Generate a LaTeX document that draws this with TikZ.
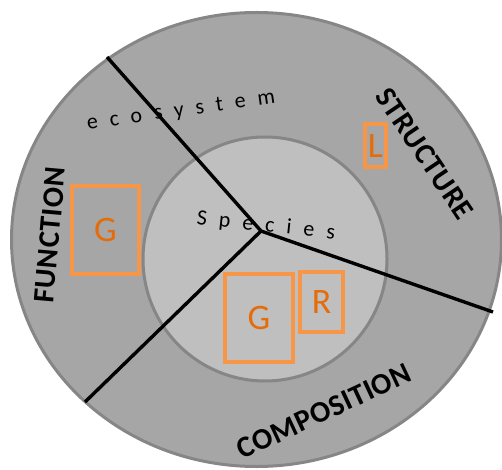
\documentclass[tikz,border=0pt]{standalone}
\usepackage{fontspec}
\setmainfont{Carlito}
\begin{document}
\begin{tikzpicture}[x=1bp,y=-1bp,
  ring/.style={fill=outerfill,draw=ringline,line width=3bp},
  core/.style={fill=innerfill,draw=ringline,line width=3bp},
  divider/.style={line width=3.4bp,black},
  obox/.style={draw=boxorange,line width=3.4bp,inner sep=0pt,text=letterorange,font=\fontsize{36}{36}\selectfont},
  biglabel/.style={font=\bfseries\fontsize{30}{30}\selectfont\addfontfeature{LetterSpace=2},inner sep=0pt},
  spaced/.style={font=\fontsize{22}{22}\selectfont\addfontfeature{LetterSpace=55},inner sep=0pt,text=black}
]
\definecolor{outerfill}{HTML}{A6A6A6}
\definecolor{innerfill}{HTML}{BFBFBF}
\definecolor{ringline}{HTML}{868686}
\definecolor{boxorange}{HTML}{F79646}
\definecolor{letterorange}{HTML}{E46C0A}
\useasboundingbox (0,0) rectangle (502,470);
% rings
\draw[ring] (256.5,239.5) ellipse [x radius=245,y radius=227];
\draw[core] (265,259) circle [radius=122];
% texts
\node[spaced,rotate=8] (eco) at (181,111) {ecosystem};
\node[spaced,rotate=-6] (spe) at (266,226) {Species};
\node[biglabel,rotate=85] (fun) at (50,235) {FUNCTION};
\node[biglabel,rotate=-56] (str) at (425,154) {STRUCTURE};
\node[biglabel,rotate=25] (com) at (324,411) {COMPOSITION};
% dividers
\coordinate (c) at (261,231);
\coordinate (e1) at (107,57);
\coordinate (e2) at (493,312);
\coordinate (e3) at (85,402);
\draw[divider] (e1) -- (c) -- (e2);
\draw[divider] (c) -- (e3);
% boxes
\node[obox,minimum width=67bp,minimum height=88bp] (g1) at (105.5,230) {G};
\node[obox,minimum width=68bp,minimum height=88bp] (g2) at (259,318) {G};
\node[obox,minimum width=43bp,minimum height=60bp] (r) at (321.5,302) {R};
\node[obox,minimum width=21bp,minimum height=43bp] (l) at (375.5,145.5) {L};
\end{tikzpicture}
\end{document}
